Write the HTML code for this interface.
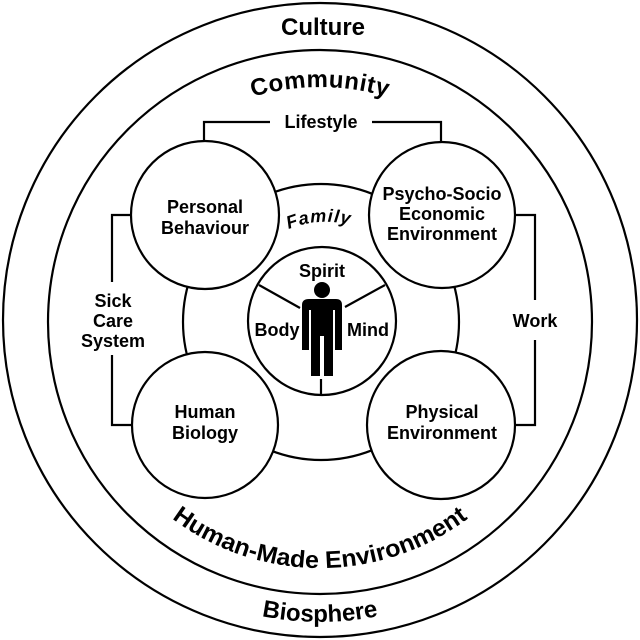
<!DOCTYPE html>
<html><head><meta charset="utf-8"><style>
html,body{margin:0;padding:0;background:#fff}
svg{display:block}
text{font-family:"Liberation Sans",Arial,sans-serif;font-weight:bold;fill:#000}
</style></head><body>
<svg width="640" height="640" viewBox="0 0 640 640" xmlns="http://www.w3.org/2000/svg">
<defs>
<path id="topArc" d="M85,322 A235,235 0 0 1 555,322"/>
<path id="botArc" d="M74,322 A246,246 0 0 0 566,322"/>
<path id="bioArc" d="M20,322 A300,300 0 0 0 620,322"/>
<path id="famArc" d="M220,322 A100,100 0 0 1 420,322"/>
</defs>
<g fill="none" stroke="#000" stroke-width="2.2">
<circle cx="320" cy="320" r="317"/>
<circle cx="320" cy="322" r="272"/>
<circle cx="321" cy="322" r="138"/>
<circle cx="322" cy="321" r="74"/>
<path d="M204,142 V122 H270 M372,122 H441 V142"/>
<path d="M131,215 H112 V282 M112,355 V425 H131"/>
<path d="M515,215 H535 V300 M535,340 V425 H515"/>
<path d="M259,285 L300,308 M385,285 L345,307 M321,379 V395"/>
</g>
<g fill="#fff" stroke="#000" stroke-width="2.2">
<circle cx="205" cy="215" r="74"/>
<circle cx="442" cy="215" r="73"/>
<circle cx="205" cy="425" r="73"/>
<circle cx="441" cy="425" r="74"/>
</g>
<g fill="#000">
<circle cx="322" cy="290" r="8"/>
<path d="M309,299 H336 Q342,299 342,305 V350 H335 V310 H333 V376 H324 V336 H320 V376 H311 V310 H309 V350 H302 V305 Q302,299 309,299 Z"/>
</g>
<text x="323" y="35" font-size="24" text-anchor="middle">Culture</text>
<text font-size="24"><textPath href="#topArc" startOffset="50%" text-anchor="middle" letter-spacing="0.5">Community</textPath></text>
<text font-size="24"><textPath href="#botArc" startOffset="50%" text-anchor="middle" textLength="318" lengthAdjust="spacingAndGlyphs">Human-Made Environment</textPath></text>
<text font-size="24"><textPath href="#bioArc" startOffset="50%" text-anchor="middle">Biosphere</textPath></text>
<text font-size="18" transform="rotate(-4 320 235)"><textPath href="#famArc" startOffset="50%" text-anchor="middle" font-style="italic" letter-spacing="1">Family</textPath></text>
<g font-size="18" text-anchor="middle">
<text x="321" y="128">Lifestyle</text>
<text x="205" y="213">Personal</text>
<text x="205" y="234">Behaviour</text>
<text x="442" y="200">Psycho-Socio</text>
<text x="442" y="220">Economic</text>
<text x="442" y="240">Environment</text>
<text x="205" y="418">Human</text>
<text x="205" y="439">Biology</text>
<text x="442" y="418">Physical</text>
<text x="442" y="439">Environment</text>
<text x="113" y="307">Sick</text>
<text x="113" y="327">Care</text>
<text x="113" y="347">System</text>
<text x="535" y="327">Work</text>
<text x="322" y="277">Spirit</text>
<text x="277" y="336">Body</text>
<text x="368" y="336">Mind</text>
</g>
</svg>
</body></html>
